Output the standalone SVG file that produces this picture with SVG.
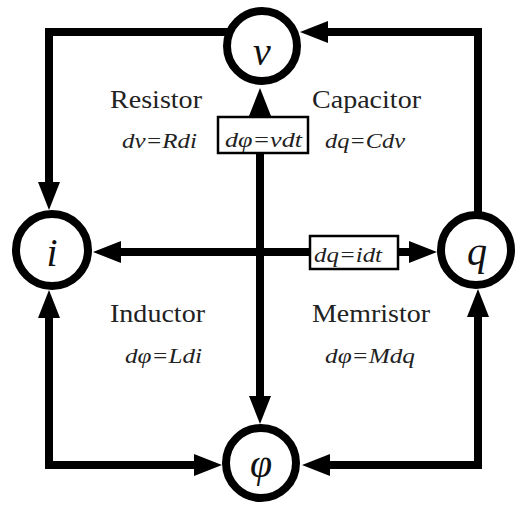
<svg xmlns="http://www.w3.org/2000/svg" width="515" height="506" viewBox="0 0 515 506">
<defs>
<marker id="ah" markerUnits="userSpaceOnUse" markerWidth="30" markerHeight="24" refX="0" refY="11" orient="auto-start-reverse">
<path d="M0,0 L28,11 L0,22 z" fill="#000"/>
</marker>
<style>
.c{fill:none;stroke:#000;stroke-width:8;stroke-linejoin:miter}
.n{fill:#fff;stroke:#000;stroke-width:8}
.b{fill:#fff;stroke:#000;stroke-width:2.5}
.lab{font-family:'Liberation Serif','Times New Roman',Times,serif;font-size:25px;fill:#222}
.eq{font-family:'Liberation Serif','Times New Roman',Times,serif;font-size:20px;font-style:italic;fill:#222}
.sym{font-family:'Liberation Serif','Times New Roman',Times,serif;font-size:40px;font-style:italic;fill:#111;text-anchor:middle}
</style>
</defs>
<rect width="515" height="506" fill="#fff"/>
<g id="connectors">
<path class="c" d="M230,32 H49 V182" marker-end="url(#ah)"/>
<path class="c" d="M478,215 V32 H328" marker-end="url(#ah)"/>
<path class="c" d="M260,153 V396" marker-end="url(#ah)"/>
<path class="c" d="M260,119 V116" marker-end="url(#ah)"/>
<path class="c" d="M310,252 H121" marker-end="url(#ah)"/>
<path class="c" d="M398,252 H409" marker-end="url(#ah)"/>
<path class="c" d="M194,465 H49 V318" marker-start="url(#ah)" marker-end="url(#ah)"/>
<path class="c" d="M330,465 H478 V317" marker-start="url(#ah)" marker-end="url(#ah)"/>
</g>
<g id="node-v"><circle class="n" cx="262" cy="46" r="35"/><text class="sym" x="262" y="65" font-size="36">v</text></g>
<g id="node-i"><circle class="n" cx="52" cy="250" r="36"/><text class="sym" x="52" y="266">i</text></g>
<g id="node-q"><circle class="n" cx="476" cy="250" r="35"/><text class="sym" x="477" y="265">q</text></g>
<g id="node-phi"><circle class="n" cx="261" cy="463" r="35"/><text class="sym" x="261" y="477" font-style="normal" font-size="38">φ</text></g>
<g id="box-vdt"><rect class="b" x="218" y="117" width="90" height="36"/><text class="eq" x="225" y="147" textLength="77" lengthAdjust="spacingAndGlyphs">dφ=vdt</text></g>
<g id="box-idt"><rect class="b" x="310" y="236" width="88" height="33"/><text class="eq" x="314" y="262" textLength="68" lengthAdjust="spacingAndGlyphs">dq=idt</text></g>
<g id="labels">
<text class="lab" x="110" y="108" textLength="92" lengthAdjust="spacingAndGlyphs">Resistor</text>
<text class="lab" x="312" y="108" textLength="109" lengthAdjust="spacingAndGlyphs">Capacitor</text>
<text class="eq" x="122" y="148" textLength="75" lengthAdjust="spacingAndGlyphs">dv=Rdi</text>
<text class="eq" x="325" y="148" textLength="80" lengthAdjust="spacingAndGlyphs">dq=Cdv</text>
<text class="lab" x="110" y="322" textLength="95" lengthAdjust="spacingAndGlyphs">Inductor</text>
<text class="lab" x="312" y="322" textLength="118" lengthAdjust="spacingAndGlyphs">Memristor</text>
<text class="eq" x="125" y="363" textLength="77" lengthAdjust="spacingAndGlyphs">dφ=Ldi</text>
<text class="eq" x="325" y="363" textLength="90" lengthAdjust="spacingAndGlyphs">dφ=Mdq</text>
</g>
</svg>
